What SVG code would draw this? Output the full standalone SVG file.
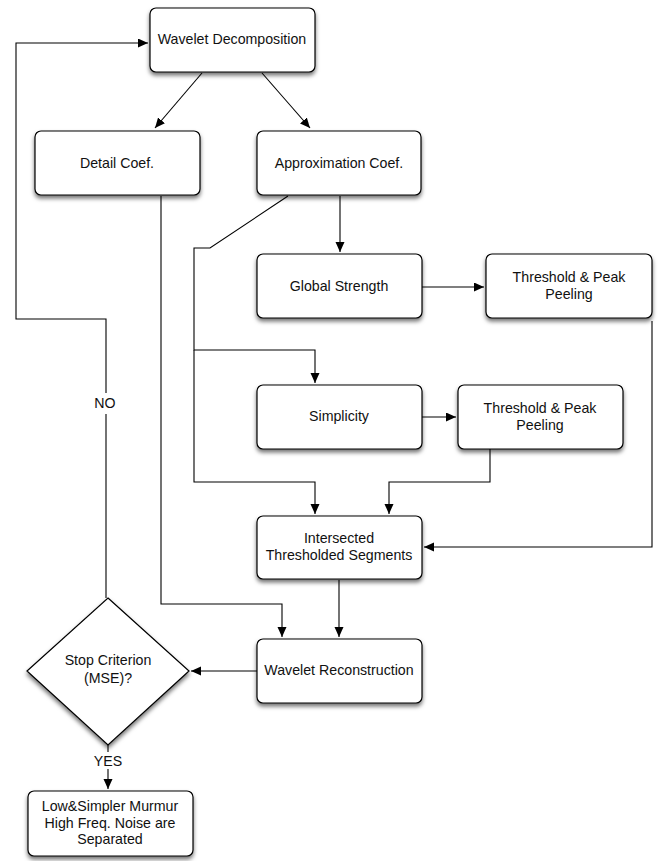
<svg xmlns="http://www.w3.org/2000/svg" width="661" height="861" viewBox="0 0 661 861">
<style>
.box{fill:#fff;stroke:#000;stroke-width:1.2;filter:url(#sh)}
.t{font-family:"Liberation Sans",Arial,sans-serif;font-size:14.2px;fill:#111;text-anchor:middle}
.c{fill:none;stroke:#000;stroke-width:1.1}
.a{marker-end:url(#ah)}
</style>
<defs>
<filter id="sh" x="-10%" y="-10%" width="125%" height="140%">
<feDropShadow dx="0" dy="3" stdDeviation="2.2" flood-color="#000" flood-opacity="0.55"/>
</filter>
<marker id="ah" markerUnits="userSpaceOnUse" markerWidth="12" markerHeight="10" refX="10" refY="4.5" orient="auto">
<path d="M0,0 L10,4.5 L0,9 Z" fill="#000"/>
</marker>
</defs>
<rect width="661" height="861" fill="#fff"/>
<g id="connectors">
<path class="c a" d="M202,73 L155,128"/>
<path class="c a" d="M262,73 L310,128"/>
<path class="c a" d="M340,196 L340,252"/>
<path class="c a" d="M422,287 L484,287"/>
<path class="c a" d="M288,196 L210,248 L194,248 L194,350 L315,350 L315,383"/>
<path class="c a" d="M194,350 L194,482 L315,482 L315,514"/>
<path class="c a" d="M422,417 L456,417"/>
<path class="c a" d="M490,449 L490,482 L389,482 L389,514"/>
<path class="c a" d="M652,321 L652,547 L424,547"/>
<path class="c a" d="M339,580 L339,637"/>
<path class="c a" d="M161,196 L161,604 L282,604 L282,637"/>
<path class="c a" d="M257,671 L191,671"/>
<path class="c" d="M106,598 L106,414"/>
<path class="c a" d="M106,393 L106,319 L16,319 L16,43 L148,43"/>
<path class="c" d="M108,745 L108,752"/>
<path class="c a" d="M108,769 L108,789"/>
<text class="t" x="105" y="408">NO</text>
<text class="t" x="108" y="766">YES</text>
</g>
<g id="n1"><rect class="box" x="150" y="8" width="165" height="64" rx="6"/><text class="t" x="232" y="44">Wavelet Decomposition</text></g>
<g id="n2"><rect class="box" x="35" y="131" width="165" height="64" rx="6"/><text class="t" x="117" y="168">Detail Coef.</text></g>
<g id="n3"><rect class="box" x="257" y="131" width="164" height="64" rx="6"/><text class="t" x="339" y="168">Approximation Coef.</text></g>
<g id="n4"><rect class="box" x="257" y="254" width="165" height="64" rx="6"/><text class="t" x="339" y="291">Global Strength</text></g>
<g id="n5"><rect class="box" x="486" y="254" width="166" height="64" rx="6"/><text class="t" x="569" y="282">Threshold &amp; Peak</text><text class="t" x="569" y="299">Peeling</text></g>
<g id="n6"><rect class="box" x="257" y="385" width="165" height="64" rx="6"/><text class="t" x="339" y="421">Simplicity</text></g>
<g id="n7"><rect class="box" x="458" y="385" width="165" height="64" rx="6"/><text class="t" x="540" y="413">Threshold &amp; Peak</text><text class="t" x="540" y="430">Peeling</text></g>
<g id="n8"><rect class="box" x="257" y="516" width="165" height="63" rx="6"/><text class="t" x="339" y="543">Intersected</text><text class="t" x="339" y="560">Thresholded Segments</text></g>
<g id="n9"><rect class="box" x="257" y="639" width="165" height="64" rx="6"/><text class="t" x="339" y="675">Wavelet Reconstruction</text></g>
<g id="n10"><path class="box" d="M108,598 L189,671 L108,745 L27,671 Z"/><text class="t" x="108" y="665">Stop Criterion</text><text class="t" x="108" y="683">(MSE)?</text></g>
<g id="n11"><rect class="box" x="28" y="791" width="165" height="65" rx="6"/><text class="t" x="110" y="811">Low&amp;Simpler Murmur</text><text class="t" x="110" y="828">High Freq. Noise are</text><text class="t" x="110" y="844">Separated</text></g>
</svg>
